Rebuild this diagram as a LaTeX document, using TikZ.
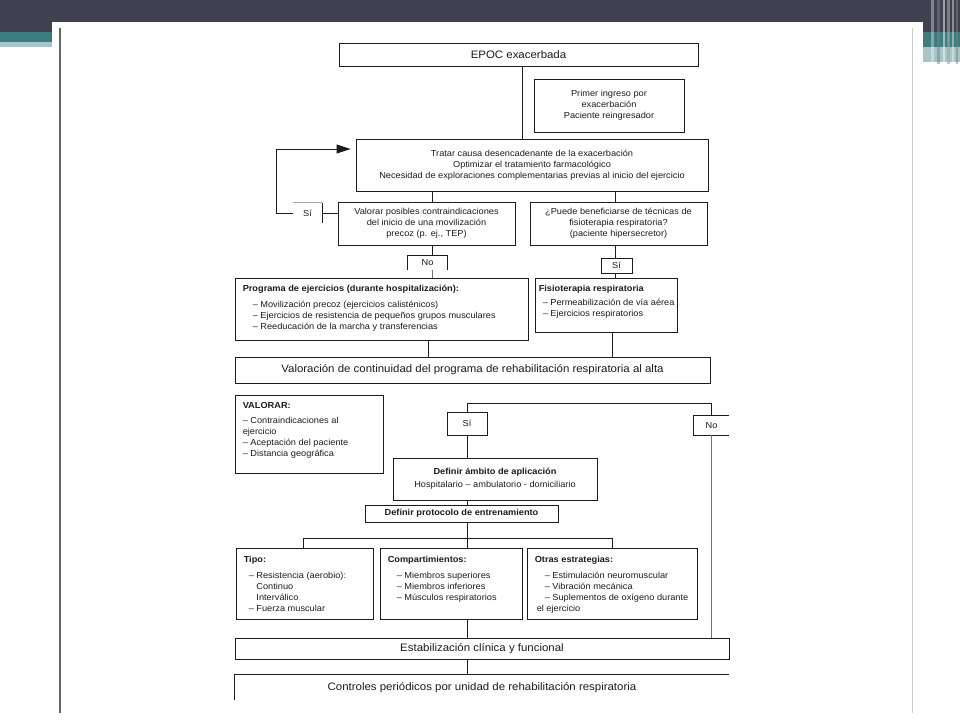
\documentclass[tikz,border=0pt]{standalone}
\usepackage{fontspec}
\setmainfont{Liberation Sans}[FakeStretch=1.06]
\usetikzlibrary{arrows.meta}
\definecolor{slate}{RGB}{64,65,81}
\definecolor{tealband}{RGB}{62,125,127}
\definecolor{tealight}{RGB}{166,198,199}
\definecolor{ink}{RGB}{28,28,28}
\newcommand\txs{\fontsize{8.7}{11}\selectfont}
\newcommand\txl{\fontsize{10.8}{12.5}\selectfont}
\begin{document}
\begin{tikzpicture}[x=1pt,y=-1pt,
  sz/.style 2 args={minimum width=#1pt, minimum height=#2pt},
  box/.style={draw=ink, line width=0.9pt, inner sep=0pt, align=center, font=\txs, text=ink},
  bigbox/.style={box, font=\txl},
  lbl/.style={inner sep=0pt, align=center, font=\txs, text=ink},
  lst/.style={anchor=north west, align=left, inner sep=0pt, font=\txs, text=ink},
  conn/.style={draw=ink, line width=0.9pt},
  faint/.style={draw=black!55, line width=0.8pt}]
\useasboundingbox (0,0) rectangle (960,720);
% slide background
\fill[white] (0,0) rectangle (960,720);
\fill[slate] (0,0) rectangle (960,22);
\fill[slate] (0,22) rectangle (52,32);
\fill[tealband] (0,32) rectangle (52,42);
\fill[tealight] (0,42) rectangle (52,47);
\fill[slate] (923,22) rectangle (960,32);
\fill[tealband] (923,32) rectangle (960,47);
\fill[tealight] (923,47) rectangle (960,62);
\fill[white,opacity=.35] (931,0) rectangle (934,64);
\fill[gray,opacity=.5] (937,0) rectangle (940,64);
\fill[white,opacity=.5] (943,0) rectangle (945,64);
\fill[gray!70,opacity=.6] (947,0) rectangle (950,64);
\fill[white,opacity=.4] (952,0) rectangle (954,64);
\fill[gray,opacity=.5] (956,0) rectangle (958,64);
\draw[black!60, line width=1.5pt] (60,28) -- (60,713);
\draw[black!20, line width=1pt] (912,28) -- (912,713);

% nodes
\node[bigbox, sz={359}{23}] (epoc) at (518.5,54.5) {EPOC exacerbada};
\node[box, sz={150}{53}] (primer) at (609,105.5) {Primer ingreso por\\exacerbación\\Paciente reingresador};
\node[box, sz={352}{52}] (tratar) at (532,165) {Tratar causa desencadenante de la exacerbación\\Optimizar el tratamiento farmacológico\\Necesidad de exploraciones complementarias previas al inicio del ejercicio};
\node[box, sz={177}{43}] (valorar) at (426.5,223.5) {Valorar posibles contraindicaciones\\del inicio de una movilización\\precoz (p. ej., TEP)};
\node[box, sz={177}{43}] (puede) at (618.5,223.5) {¿Puede beneficiarse de técnicas de\\fisioterapia respiratoria?\\(paciente hipersecretor)};

\node[lbl, sz={29}{20}] (sil) at (307.5,213) {Sí};
\draw[black!35, line width=0.8pt] (sil.north west) -- (sil.north east);
\draw[conn] (sil.north east) -- (sil.south east);

\node[lbl, sz={39}{14}] (no1) at (427.5,263) {No};
\draw[conn, line width=1.2pt] (no1.south west) -- (no1.north west) -- (no1.north east) -- (no1.south east);
\node[box, sz={31}{15}] (si1) at (616.5,265.5) {Sí};

\node[box, sz={293}{62}] (prog) at (381.5,309) {};
\node[lst] (progt) at ([xshift=8pt,yshift=-7pt]prog.north west) {\textbf{Programa de ejercicios (durante hospitalización):}\\[5pt]\hspace*{10pt}– Movilización precoz (ejercicios calisténicos)\\\hspace*{10pt}– Ejercicios de resistencia de pequeños grupos musculares\\\hspace*{10pt}– Reeducación de la marcha y transferencias};

\node[box, sz={142}{54}] (fisio) at (606,305) {};
\node[lst] (fisiot) at ([xshift=4pt,yshift=-7pt]fisio.north west) {\textbf{Fisioterapia respiratoria}\\[3pt]\hspace*{4pt}– Permeabilización de vía aérea\\\hspace*{4pt}– Ejercicios respiratorios};

\node[bigbox, sz={475}{26}] (valor) at (472.5,370) {Valoración de continuidad del programa de rehabilitación respiratoria al alta};

\node[box, sz={148}{78}] (valbox) at (309,434) {};
\node[lst] (valboxt) at ([xshift=8pt,yshift=-8pt]valbox.north west) {\textbf{VALORAR:}\\[4pt]– Contraindicaciones al\\ejercicio\\– Aceptación del paciente\\– Distancia geográfica};

\node[box, sz={40}{23}] (si2) at (467,423.5) {Sí};
\node[lbl, sz={35}{19}] (no2) at (711.5,425.5) {No};
\draw[conn] (no2.north east) -- (no2.north west) -- (no2.south west) -- (no2.south east);

\node[box, sz={204}{42}] (ambito) at (495,479) {\textbf{Definir ámbito de aplicación}\\[2pt]Hospitalario – ambulatorio - domiciliario};
\node[box, sz={193}{17}] (proto) at (461.5,513.5) {\textbf{Definir protocolo de entrenamiento}};

\node[box, sz={137}{71}] (tipo) at (304.5,583.5) {};
\node[lst] (tipot) at ([xshift=8pt,yshift=-8pt]tipo.north west) {\textbf{Tipo:}\\[5pt]\hspace*{5pt}– Resistencia (aerobio):\\\hspace*{5pt}\phantom{– }Continuo\\\hspace*{5pt}\phantom{– }Interválico\\\hspace*{5pt}– Fuerza muscular};
\node[box, sz={142}{71}] (comp) at (451,583.5) {};
\node[lst] (compt) at ([xshift=8pt,yshift=-8pt]comp.north west) {\textbf{Compartimientos:}\\[5pt]\hspace*{9pt}– Miembros superiores\\\hspace*{9pt}– Miembros inferiores\\\hspace*{9pt}– Músculos respiratorios};
\node[box, sz={170}{71}] (otras) at (612,583.5) {};
\node[lst] (otrast) at ([xshift=8pt,yshift=-8pt]otras.north west) {\textbf{Otras estrategias:}\\[5pt]\hspace*{10pt}– Estimulación neuromuscular\\\hspace*{10pt}– Vibración mecánica\\\hspace*{10pt}– Suplementos de oxígeno durante\\\hspace*{2pt}el ejercicio};

\node[bigbox, sz={494}{21}] (estab) at (482,648.5) {Estabilización clínica y funcional};
\node[lbl, font=\txl, sz={494}{25}] (ctrl) at (482,687.5) {Controles periódicos por unidad de rehabilitación respiratoria};
\draw[conn] (ctrl.south west) -- (ctrl.north west) -- (ctrl.north east);

% x positions of connectors
\coordinate (xa) at (522,0);
\coordinate (xb) at (432,0);
\coordinate (xc) at (615,0);
\coordinate (xd) at (428,0);
\coordinate (xe) at (612,0);
\coordinate (xm) at (467,0);
\coordinate (xn) at (711,0);

% connectors
\draw[conn] (epoc.south -| xa) -- (tratar.north -| xa);
\draw[conn] (tratar.south -| xb) -- (valorar.north -| xb);
\draw[conn] (tratar.south -| xc) -- (puede.north -| xc);
\coordinate (lpa) at (276,213);
\coordinate (lpb) at (276,149);
\draw[conn, -{Triangle[length=14pt,width=9pt]}] (sil.west) -- (lpa) -- (lpb) -- ([xshift=-5pt]tratar.west |- lpb);
\draw[conn] (sil.east) -- (valorar.west |- sil.east);
\draw[conn] (valorar.south -| xb) -- (no1.north -| xb);
\draw[faint] (no1.south -| xb) -- (prog.north -| xb);
\draw[conn] (puede.south -| xc) -- (si1.north -| xc);
\draw[conn] (si1.south -| xc) -- (fisio.north -| xc);
\draw[conn] (prog.south -| xd) -- (valor.north -| xd);
\draw[conn] (fisio.south -| xe) -- (valor.north -| xe);

\coordinate (bl) at (467,403);
\coordinate (br) at (711,403);
\draw[conn] (si2.north) -- (bl) -- (br) -- (no2.north -| br);
\draw[faint] (no2.south -| xn) -- (estab.north -| xn);
\draw[conn] (si2.south) -- (ambito.north -| si2.south);
\draw[conn] (ambito.south -| xm) -- (proto.north -| xm);

\coordinate (barl) at (303,538);
\coordinate (barm) at (467,538);
\coordinate (barr) at (612,538);
\draw[conn] (proto.south -| barm) -- (barm);
\draw[conn] (barl) -- (barr);
\draw[conn] (barl) -- (tipo.north -| barl);
\draw[conn] (barm) -- (comp.north -| barm);
\draw[conn] (barr) -- (otras.north -| barr);
\draw[conn] (comp.south -| xm) -- (estab.north -| xm);
\draw[conn] (estab.south -| xm) -- (ctrl.north -| xm);
\end{tikzpicture}
\end{document}
